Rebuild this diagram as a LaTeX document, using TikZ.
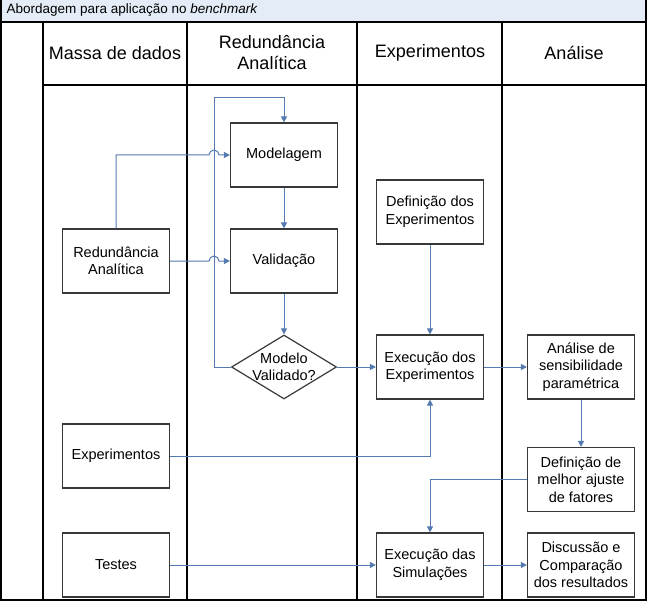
\documentclass[tikz,border=0pt]{standalone}
\usepackage{fontspec}
\setmainfont{Liberation Sans}
\usetikzlibrary{positioning,shapes.geometric,arrows.meta}
\definecolor{fluxo}{RGB}{84,122,176}
\definecolor{faixa}{RGB}{228,236,247}

\begin{document}
\begin{tikzpicture}[x=1pt,y=-1pt,on grid,
	caixa/.style={draw=black!78,line width=1.2pt,minimum width=107pt,minimum height=64pt,align=center,inner sep=2pt,font=\fontsize{14.5}{17.5}\selectfont},
	decisao/.style={diamond,draw=black!78,line width=1.2pt,minimum width=105pt,minimum height=64pt,aspect=1.64,inner sep=-4pt,align=center,font=\fontsize{14.5}{17.5}\selectfont},
	cabec/.style={align=center,font=\fontsize{18}{21}\selectfont},
	fluxo/.style={draw=fluxo,line width=1pt,-{Triangle[length=6pt,width=6pt]}},
	raia/.style={line width=1.6pt}]
	\useasboundingbox (0,0) rectangle (648,607);
	\fill[faixa] (1,-5) rectangle (646,22);
	\draw[raia] (1,-5) rectangle (646,600);
	\draw[line width=2.6pt] (0,22) -- (647,22);
	\draw[line width=1.2pt] (43,85) -- (646,85);
	\foreach \xr in {43,187,357,502}
		\draw[raia] (\xr,22) -- (\xr,600);
	\node[anchor=base west,font=\fontsize{13.5}{16}\selectfont] (titulo) at (3,14) {Abordagem para aplicação no \textit{benchmark}};
	\node[cabec] (h1) at (115,53) {Massa de dados};
	\node[cabec] (h2) at (272,53) {Redundância\\Analítica};
	\node[cabec] (h3) at (430,53) {Experimentos};
	\node[cabec] (h4) at (574,53) {Análise};
	\node[caixa] (ra) at (116,261) {Redundância\\Analítica};
	\node[caixa,right=168pt of ra] (val) {Validação};
	\node[caixa,above=106pt of val] (mod) {Modelagem};
	\node[decisao,below=106pt of val] (dia) {Modelo\\Validado?};
	\node[caixa,right=146pt of dia] (exe) {Execução dos\\Experimentos};
	\node[caixa,above=155pt of exe] (defx) {Definição dos\\Experimentos};
	\node[caixa,right=151pt of exe] (ana) {Análise de\\sensibilidade\\paramétrica};
	\node[caixa,below=112.5pt of ana] (defm) {Definição de\\melhor ajuste\\de fatores};
	\node[caixa,below=85.5pt of defm] (disc) {Discussão e\\Comparação\\dos resultados};
	\node[caixa,left=151pt of disc] (sim) {Execução das\\Simulações};
	\node[caixa,below=195pt of ra] (exps) {Experimentos};
	\node[caixa,below=109pt of exps] (testes) {Testes};
	\coordinate (laco) at (214,98);
	\coordinate (hopm) at (mod.west -| laco);
	\coordinate (hopv) at (val.west -| laco);
	\draw[fluxo] (mod) -- (val);
	\draw[fluxo] (val) -- (dia);
	\draw[fluxo] (dia.west) -| (laco) -| (mod.north);
	\draw[fluxo] (ra.north) |- ([xshift=-5pt]hopm) arc[start angle=180,end angle=0,radius=5pt] -- (mod.west);
	\draw[fluxo] (ra.east) -- ([xshift=-5pt]hopv) arc[start angle=180,end angle=0,radius=5pt] -- (val.west);
	\draw[fluxo] (defx) -- (exe);
	\draw[fluxo] (dia) -- (exe);
	\draw[fluxo] (exe) -- (ana);
	\draw[fluxo] (exps.east) -| (exe.south);
	\draw[fluxo] (ana) -- (defm);
	\draw[fluxo] (defm.west) -| (sim.north);
	\draw[fluxo] (testes) -- (sim);
	\draw[fluxo] (sim) -- (disc);
\end{tikzpicture}
\end{document}
